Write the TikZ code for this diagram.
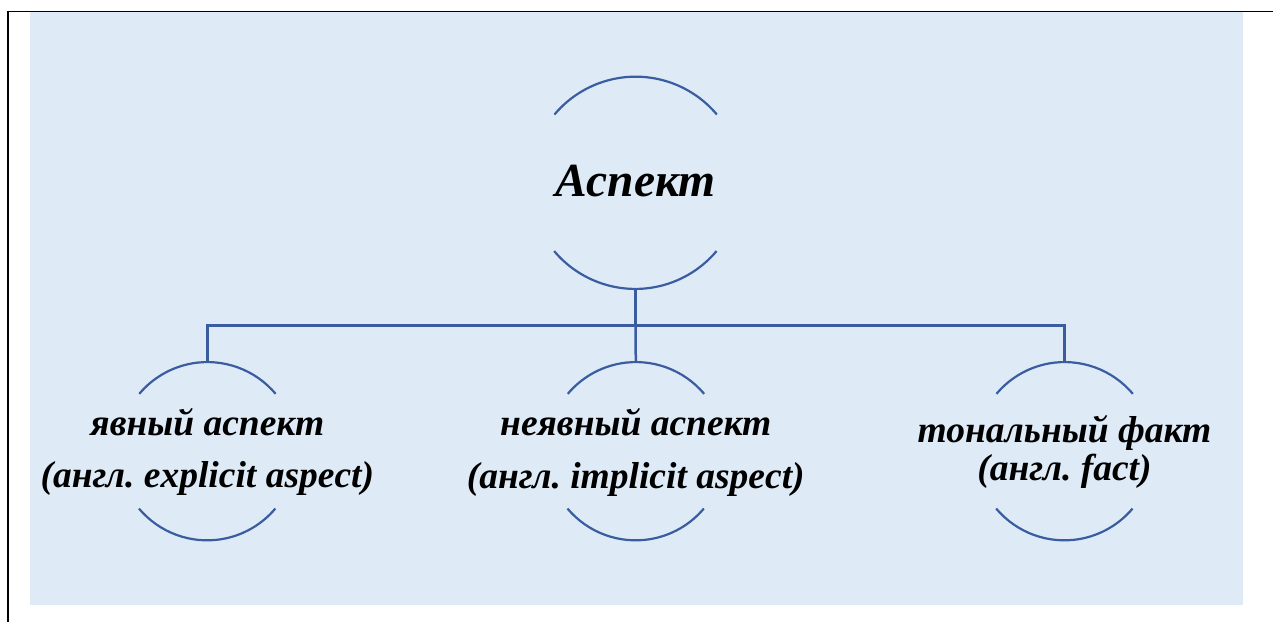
\documentclass[tikz,border=0pt]{standalone}
\usepackage{fontspec}
\setmainfont{Liberation Serif}
\definecolor{bgblue}{HTML}{DEEAF6}
\definecolor{lineblue}{HTML}{3A5DA0}
\begin{document}
\frenchspacing
\begin{tikzpicture}[x=1pt,y=1pt,
  ring/.style={circle,inner sep=0pt,minimum size=#1},
  arcline/.style={draw=lineblue,line width=2.2pt},
  conn/.style={draw=lineblue,line width=2.5pt},
  bigtxt/.style={anchor=base,inner sep=0pt,font=\fontsize{47.5}{52}\selectfont\bfseries\itshape},
  smalltxt/.style={anchor=base,inner sep=0pt,font=\fontsize{37.5}{42}\selectfont\bfseries\itshape}]
\useasboundingbox (0,0) rectangle (1273,622);
% frame lines
\draw[line width=1.8pt] (7,610.4) -- (1273,610.4);
\draw[line width=1.8pt] (8.2,611.3) -- (8.2,0);
\fill[bgblue] (30,17.3) rectangle (1243,609.6);
% circles (invisible nodes)
\node[ring=212pt] (top) at (635.5,439.2) {};
\node[ring=178pt] (a) at (207.3,170.8) {};
\node[ring=178pt] (b) at (635.8,170.8) {};
\node[ring=178pt] (c) at (1064.5,170.8) {};
% arcs
\foreach \n/\r in {top/106,a/89,b/89,c/89}{
  \draw[arcline] (\n.40) arc[start angle=40,end angle=140,radius=\r pt];
  \draw[arcline] (\n.220) arc[start angle=220,end angle=320,radius=\r pt];
}
% connectors
\coordinate (j) at (635.5,296.7);
\draw[conn] (top.south) -- (j);
\draw[conn] (a.north) |- (j) -| (c.north);
\draw[conn] (j) -- (b.north);
% texts
\node[bigtxt] (t0) at (635.5,425.3) {Аспект};
\node[smalltxt] (a1) at (207.3,186.5) {явный аспект};
\node[smalltxt] (a2) at (207.3,135) {(англ. explicit aspect)};
\node[smalltxt] (b1) at (635.8,186.5) {неявный аспект};
\node[smalltxt] (b2) at (635.8,134) {(англ. implicit aspect)};
\node[smalltxt] (c1) at (1064.5,179.5) {тональный факт};
\node[smalltxt] (c2) at (1064.5,142) {(англ. fact)};
\end{tikzpicture}
\end{document}
